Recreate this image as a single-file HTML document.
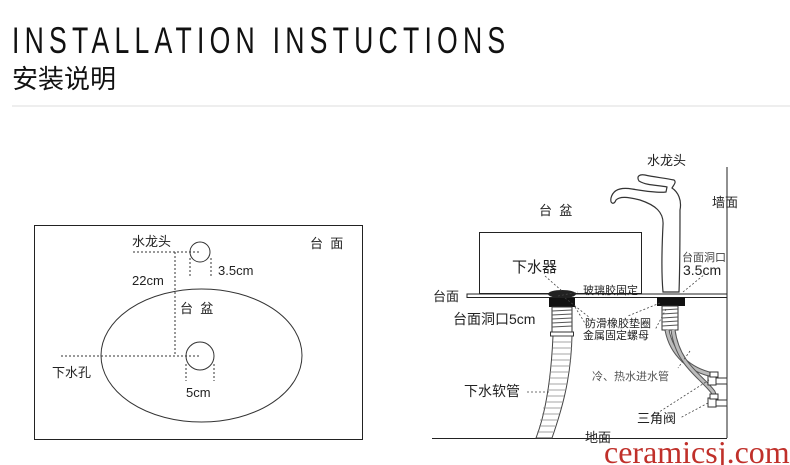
<!DOCTYPE html>
<html><head><meta charset="utf-8"><style>
html,body{margin:0;padding:0;background:#fff;width:790px;height:465px;overflow:hidden}
svg{display:block}
text{font-family:"Liberation Sans","Noto Sans CJK SC",sans-serif;fill:#222}
</style></head><body>
<svg width="790" height="465" viewBox="0 0 790 465" xmlns="http://www.w3.org/2000/svg">
<g transform="translate(12,53) scale(0.72,1)">
<text x="0" y="0" font-size="37" textLength="685" lengthAdjust="spacing" style="fill:#111">INSTALLATION INSTUCTIONS</text>
</g>
<text x="12" y="88" font-size="26" style="fill:#111">安装说明</text>
<line x1="12" y1="106" x2="790" y2="106" stroke="#ddd" stroke-width="1"/>

<!-- left diagram -->
<rect x="34.5" y="225.5" width="328" height="214" fill="none" stroke="#222"/>
<ellipse cx="201.5" cy="355.5" rx="100.5" ry="66.5" fill="none" stroke="#333"/>
<circle cx="200" cy="252" r="10" fill="none" stroke="#333"/>
<circle cx="200" cy="356" r="14" fill="none" stroke="#333"/>
<g stroke="#333" stroke-dasharray="2,2" fill="none">
<line x1="133" y1="252" x2="200" y2="252"/>
<line x1="175" y1="252" x2="175" y2="356"/>
<line x1="61" y1="356" x2="200" y2="356"/>
<line x1="190" y1="258" x2="190" y2="276"/>
<line x1="211" y1="258" x2="211" y2="276"/>
<line x1="186" y1="364" x2="186" y2="381"/>
<line x1="214" y1="364" x2="214" y2="381"/>
</g>
<g font-size="13">
<text x="132" y="246">水龙头</text>
<text x="218" y="275">3.5cm</text>
<text x="132" y="285">22cm</text>
<text x="180" y="313" xml:space="preserve">台  盆</text>
<text x="310" y="248" xml:space="preserve">台  面</text>
<text x="52" y="377">下水孔</text>
<text x="186" y="397">5cm</text>
</g>

<!-- right diagram -->
<line x1="727" y1="167" x2="727" y2="438" stroke="#222"/>
<line x1="432" y1="438.5" x2="727" y2="438.5" stroke="#222"/>
<rect x="467" y="294" width="260" height="3.5" fill="#fff" stroke="#222" stroke-width="1"/>
<rect x="479.5" y="232.5" width="162" height="61" fill="none" stroke="#222"/>
<ellipse cx="562" cy="294" rx="14" ry="4" fill="#222"/>
<rect x="549" y="298" width="26" height="9" fill="#111"/>
<rect x="552" y="307" width="20" height="25" fill="#fff" stroke="#333"/>
<g stroke="#555" stroke-width="1">
<line x1="552" y1="311" x2="572" y2="310"/><line x1="552" y1="315" x2="572" y2="314"/><line x1="552" y1="319" x2="572" y2="318"/><line x1="552" y1="323" x2="572" y2="322"/><line x1="552" y1="327" x2="572" y2="326"/></g>
<rect x="550.5" y="332" width="23" height="4" fill="#fff" stroke="#333"/>
<path d="M553 336 C551 380 545 415 536 438 L552 438 C561 412 571 380 572 336 Z" fill="#fff" stroke="#444"/>
<g stroke="#888" stroke-width="0.8">
<line x1="553" y1="342" x2="572" y2="342"/><line x1="553" y1="348" x2="572" y2="348"/><line x1="552" y1="354" x2="571" y2="354"/><line x1="552" y1="360" x2="571" y2="360"/><line x1="551" y1="366" x2="570" y2="366"/><line x1="550" y1="372" x2="569" y2="372"/><line x1="549" y1="378" x2="568" y2="378"/><line x1="548" y1="384" x2="567" y2="384"/><line x1="547" y1="390" x2="566" y2="390"/><line x1="546" y1="396" x2="564" y2="396"/><line x1="545" y1="402" x2="563" y2="402"/><line x1="543" y1="408" x2="561" y2="408"/><line x1="542" y1="414" x2="559" y2="414"/><line x1="540" y1="420" x2="557" y2="420"/><line x1="539" y1="426" x2="555" y2="426"/><line x1="537" y1="432" x2="553" y2="432"/></g>
<path d="M663 292 C661 270 662 245 663 225 C664 212 655 205 640 200 C628 197 620 196 616 200 C614 205 610 204 611 198 C613 190 620 187 632 189 C645 191 658 193 666 192 L667 187 C660 185 647 186 639 181 C636 176 640 174 645 175 C654 177 664 178 674 180 C677 182 673 186 672 188 C678 192 682 200 680 210 C680 240 680 265 679 292 Z" fill="#fff" stroke="#333" stroke-width="1.2"/>
<rect x="657" y="297" width="28" height="9" fill="#111"/>
<rect x="662" y="306" width="16" height="24" fill="#fff" stroke="#333"/>
<g stroke="#555"><line x1="662" y1="310" x2="678" y2="309"/><line x1="662" y1="314" x2="678" y2="313"/><line x1="662" y1="318" x2="678" y2="317"/><line x1="662" y1="322" x2="678" y2="321"/><line x1="662" y1="326" x2="678" y2="325"/></g>
<path d="M667 330 C672 355 690 370 713 375" fill="none" stroke="#555" stroke-width="5"/>
<path d="M667 330 C672 355 690 370 713 375" fill="none" stroke="#bbb" stroke-width="3"/>
<path d="M673 330 C678 365 700 375 713 392 L716 400" fill="none" stroke="#555" stroke-width="5"/>
<path d="M673 330 C678 365 700 375 713 392 L716 400" fill="none" stroke="#bbb" stroke-width="3"/>
<g fill="#fff" stroke="#333">
<rect x="708" y="376" width="8" height="9"/><rect x="716" y="378" width="11" height="6"/><rect x="710" y="372" width="8" height="5"/>
<rect x="708" y="398" width="8" height="9"/><rect x="716" y="400" width="11" height="6"/><rect x="710" y="394" width="8" height="5"/>
</g>
<g stroke="#444" stroke-dasharray="2,2" fill="none" stroke-width="0.8">
<line x1="545" y1="276" x2="562" y2="291"/>
<line x1="565" y1="298" x2="590" y2="318"/>
<line x1="575" y1="307" x2="588" y2="328"/>
<line x1="558" y1="296" x2="578" y2="292"/>
<line x1="660" y1="303" x2="628" y2="316"/>
<line x1="666" y1="309" x2="655" y2="330"/>
<line x1="683" y1="292" x2="705" y2="274"/>
<line x1="690" y1="351" x2="678" y2="368"/>
<line x1="709" y1="380" x2="656" y2="414"/>
<line x1="708" y1="403" x2="680" y2="418"/>
<line x1="527" y1="392" x2="551" y2="392"/>
</g>
<g font-size="13">
<text x="647" y="165">水龙头</text>
<text x="712" y="207">墙面</text>
<text x="539" y="215" xml:space="preserve">台  盆</text>
<text x="512" y="272" font-size="15">下水器</text>
<text x="433" y="301">台面</text>
<text x="453" y="324" font-size="14">台面洞口5cm</text>
<text x="464" y="396" font-size="14">下水软管</text>
<text x="637" y="423">三角阀</text>
<text x="585" y="442">地面</text>
<text x="683" y="275" font-size="14">3.5cm</text>
</g>
<g font-size="11">
<text x="682" y="261" style="fill:#444">台面洞口</text>
<text x="583" y="294">玻璃胶固定</text>
<text x="585" y="327">防滑橡胶垫圈</text>
<text x="583" y="339">金属固定螺母</text>
<text x="592" y="380" style="fill:#555">冷、热水进水管</text>
</g>
<text x="604" y="463" font-size="32" style="font-family:'Liberation Serif',serif;fill:#c0302a">ceramicsj.com</text>
</svg>
</body></html>
